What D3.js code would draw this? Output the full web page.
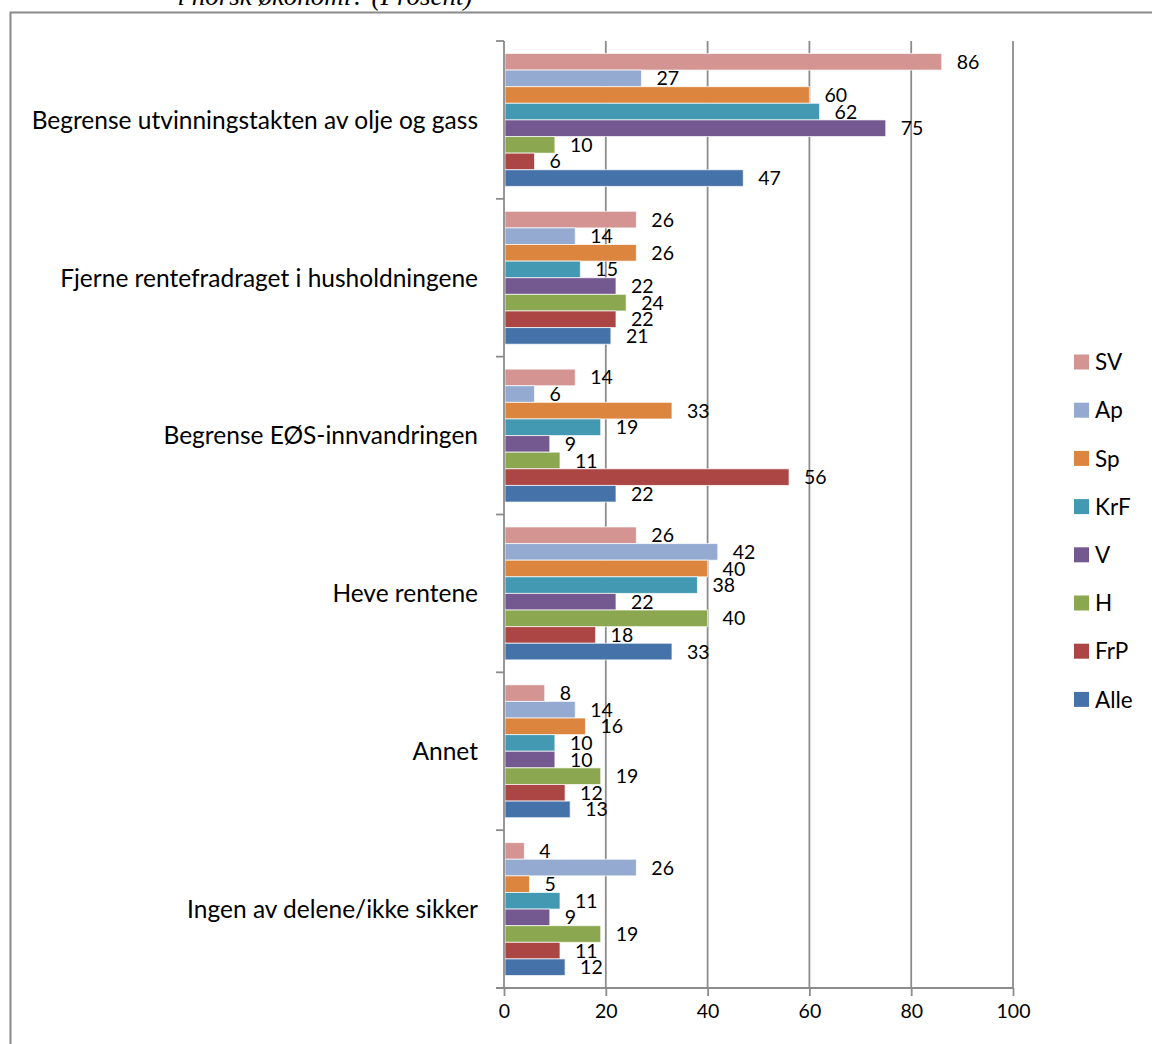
<!DOCTYPE html>
<html><head><meta charset="utf-8">
<script src="https://cdn.jsdelivr.net/npm/d3@7"></script>
<style>html,body{margin:0;padding:0;background:#fff;overflow:hidden}</style>
</head><body>
<svg id="c" width="1152" height="1044"></svg>
<script>
const categories = ["Begrense utvinningstakten av olje og gass","Fjerne rentefradraget i husholdningene","Begrense EØS-innvandringen","Heve rentene","Annet","Ingen av delene/ikke sikker"];
const seriesNames = ["SV","Ap","Sp","KrF","V","H","FrP","Alle"];
const SV   = [86,26,14,26,8,4];
const Ap   = [27,14,6,42,14,26];
const Sp   = [60,26,33,40,16,5];
const KrF  = [62,15,19,38,10,11];
const V    = [75,22,9,22,10,9];
const H    = [10,24,11,40,19,19];
const FrP  = [6,22,56,18,12,11];
const Alle = [47,21,22,33,13,12];
const xTicks = [0,20,40,60,80,100];
const colors = ["#D39492","#95AAD1","#DC853E","#4299B1","#735990","#8BA74F","#AB4644","#4572A8"];
const seriesValues = [SV,Ap,Sp,KrF,V,H,FrP,Alle];

const svg = d3.select("#c");
const font = "Lato, 'Open Sans', sans-serif";

// outer frame
svg.append("rect").attr("x",10.5).attr("y",12.5).attr("width",1160).attr("height",1060)
  .attr("fill","none").attr("stroke","#8a8a8a").attr("stroke-width",2);
// cut-off title
svg.append("text").attr("x",325).attr("y",5).attr("text-anchor","middle")
  .attr("font-family","'Liberation Serif', 'DejaVu Serif', serif").attr("font-style","italic")
  .attr("font-size",27).attr("fill","#000").text("i norsk økonomi? (Prosent)");

const x = d3.scaleLinear().domain([0,100]).range([504,1013]);
const y = d3.scaleBand().domain(categories).range([41,988]).padding(0);
const yi = d3.scaleBand().domain(seriesNames).range([0,y.bandwidth()]).paddingInner(0).paddingOuter(0.75);

// gridlines
svg.append("g").selectAll("line").data(xTicks.filter(d=>d>0)).join("line")
  .attr("x1",d=>x(d)).attr("x2",d=>x(d)).attr("y1",41).attr("y2",988)
  .attr("stroke","#8c8c8c").attr("stroke-width",1.8);

// bars
const g = svg.append("g");
categories.forEach((c,ci)=>{
  seriesNames.forEach((s,si)=>{
    const v = seriesValues[si][ci];
    g.append("rect").attr("x",x(0)+1).attr("y",y(c)+yi(s))
      .attr("width",x(v)-x(0)-1).attr("height",yi.bandwidth())
      .attr("fill",colors[si]).attr("stroke","#ffffff").attr("stroke-opacity",0.7).attr("stroke-width",1);
    g.append("text").attr("x",x(v)+15).attr("y",y(c)+yi(s)+yi.bandwidth()/2)
      .attr("dy","0.36em").attr("font-family",font).attr("font-size",19.5).attr("fill","#000").text(v);
  });
});

// x axis
const xAxis = d3.axisBottom(x).tickValues(xTicks).tickSize(8).tickPadding(8);
const gx = svg.append("g").attr("transform","translate(0,988)").call(xAxis);
gx.select(".domain").attr("stroke","#8c8c8c").attr("stroke-width",1.8).attr("d","M496,0H1013");
gx.selectAll(".tick line").attr("stroke","#8c8c8c").attr("stroke-width",1.8);
gx.selectAll(".tick text").attr("font-family",font).attr("font-size",19.5).attr("fill","#000");

// y axis
const bounds = categories.map(c=>y(c)).concat([988]);
svg.append("line").attr("x1",504).attr("x2",504).attr("y1",41).attr("y2",988)
  .attr("stroke","#8c8c8c").attr("stroke-width",1.8);
svg.append("g").selectAll("line").data(bounds).join("line")
  .attr("x1",496).attr("x2",504).attr("y1",d=>d).attr("y2",d=>d)
  .attr("stroke","#8c8c8c").attr("stroke-width",1.8);
svg.append("g").selectAll("text").data(categories).join("text")
  .attr("x",478).attr("y",d=>y(d)+y.bandwidth()/2).attr("dy","0.36em")
  .attr("text-anchor","end").attr("font-family",font).attr("font-size",24.5).attr("fill","#000").text(d=>d);

// legend
const leg = svg.append("g");
seriesNames.forEach((s,i)=>{
  const cy = 362 + i*48.2;
  leg.append("rect").attr("x",1074).attr("y",cy-7.5).attr("width",15).attr("height",15).attr("fill",colors[i]);
  leg.append("text").attr("x",1095).attr("y",cy).attr("dy","0.36em").attr("font-family",font)
    .attr("font-size",22.5).attr("fill","#000").text(s);
});
</script>
</body></html>
